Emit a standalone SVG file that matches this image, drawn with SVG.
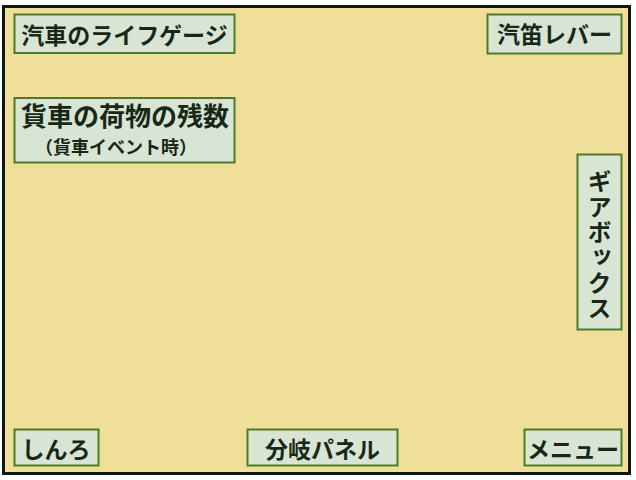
<svg xmlns="http://www.w3.org/2000/svg" width="636" height="480" viewBox="0 0 636 480">
<style>
.box{fill:#d9e5d4;stroke:#4c7a26;stroke-width:2}
.t{font-family:"Noto Sans CJK JP","Noto Sans",sans-serif;font-weight:bold;fill:#182818;text-anchor:middle;dominant-baseline:central}
.v{font-family:"Noto Sans CJK JP","Noto Sans",sans-serif;font-weight:bold;fill:#182818;writing-mode:vertical-rl;text-anchor:start}
</style>
<rect x="0" y="0" width="636" height="480" fill="#ffffff"/>
<rect x="3.5" y="6.5" width="626" height="467" fill="#efdf98" stroke="#0e1812" stroke-width="3"/>
<g id="connectors"/>
<g id="life-gauge">
<rect class="box" x="14.5" y="14.5" width="220" height="38.5"/>
<text class="t" x="124.5" y="34" font-size="23">汽車のライフゲージ</text>
</g>
<g id="whistle-lever">
<rect class="box" x="487.5" y="14.5" width="134" height="39"/>
<text class="t" x="554.5" y="33" font-size="23">汽笛レバー</text>
</g>
<g id="freight-count">
<rect class="box" x="14.5" y="98" width="220" height="64.5"/>
<text class="t" x="125" y="114.5" font-size="26">貨車の荷物の残数</text>
<text class="t" x="116" y="145.5" font-size="18">（貨車イベント時）</text>
</g>
<g id="gearbox">
<rect class="box" x="577.5" y="154.5" width="44" height="175"/>
<text class="v" x="599.5" y="169" font-size="24" letter-spacing="1.4">ギアボックス</text>
</g>
<g id="shinro">
<rect class="box" x="14.5" y="429.5" width="84" height="36"/>
<text class="t" x="56" y="448" font-size="23">しんろ</text>
</g>
<g id="branch-panel">
<rect class="box" x="247.5" y="429.5" width="150" height="36"/>
<text class="t" x="322.5" y="448" font-size="23">分岐パネル</text>
</g>
<g id="menu">
<rect class="box" x="524.5" y="429.5" width="97" height="36"/>
<text class="t" x="573" y="448" font-size="23">メニュー</text>
</g>
</svg>
